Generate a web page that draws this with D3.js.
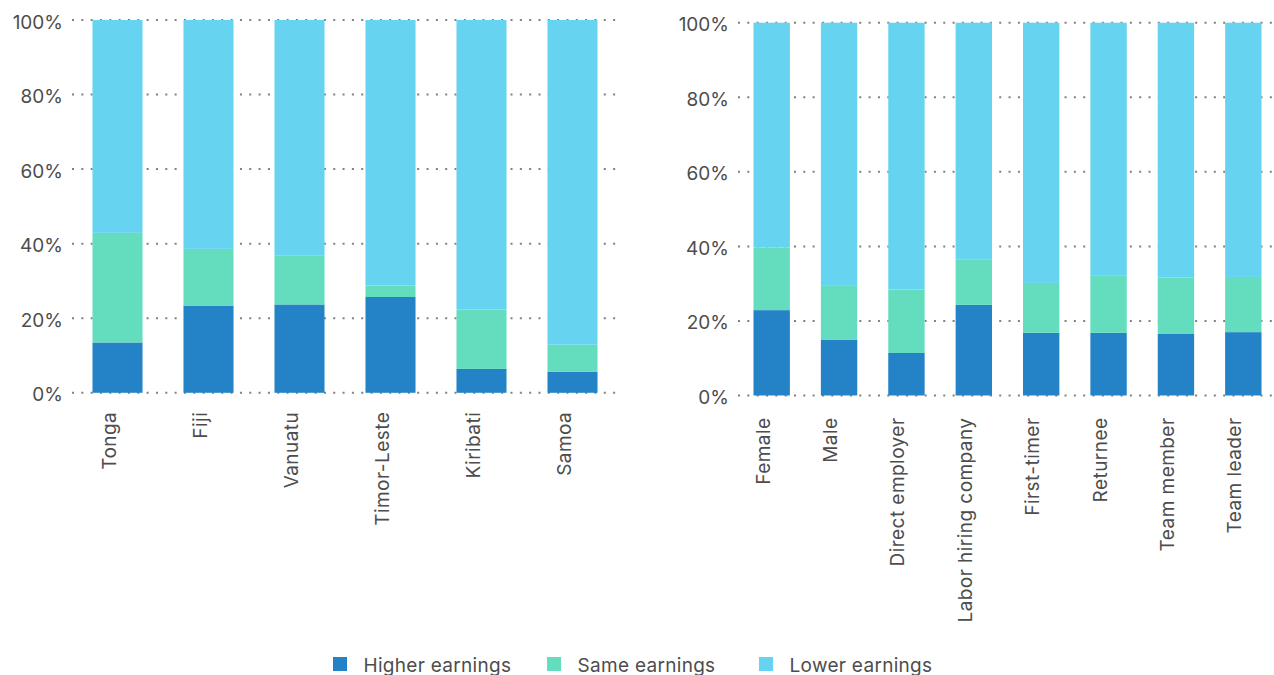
<!DOCTYPE html>
<html>
<head>
<meta charset="utf-8">
<script src="https://cdn.jsdelivr.net/npm/d3@7"></script>
<style>
  html, body { margin: 0; padding: 0; background: #fff; }
  svg { display: block; }
  text { font-family: Inter, "Noto Sans", sans-serif; fill: #4d4d4d; }
</style>
</head>
<body>
<svg id="chart" width="1274" height="675"></svg>
<script>
const seriesKeys = ["higher", "same", "lower"];
const seriesNames = ["Higher earnings", "Same earnings", "Lower earnings"];
const seriesColors = ["#2383c6", "#64ddbe", "#66d4f0"];
const yTicks = [0, 20, 40, 60, 80, 100];

const countries = ["Tonga", "Fiji", "Vanuatu", "Timor-Leste", "Kiribati", "Samoa"];
const countryHigher = [13.5, 23.4, 23.7, 25.7, 6.4, 5.6];
const countrySame = [29.4, 15.2, 13.2, 3.1, 15.9, 7.3];
const countryLower = [57.1, 61.4, 63.1, 71.2, 77.7, 87.1];

const groups = ["Female", "Male", "Direct employer", "Labor hiring company", "First-timer", "Returnee", "Team member", "Team leader"];
const groupHigher = [22.9, 14.9, 11.4, 24.3, 16.8, 16.8, 16.5, 17.0];
const groupSame = [16.8, 14.5, 17.0, 12.1, 13.4, 15.3, 15.1, 14.8];
const groupLower = [60.3, 70.6, 71.6, 63.6, 69.8, 67.9, 68.4, 68.2];

const svg = d3.select("#chart");

function drawPanel(cats, hi, sa, lo, opt) {
  const rows = cats.map((c, i) => ({ cat: c, higher: hi[i], same: sa[i], lower: lo[i] }));
  const stacked = d3.stack().keys(seriesKeys)(rows);
  const x = d3.scaleBand().domain(cats).range([opt.x0, opt.x1]).paddingInner(opt.pad).paddingOuter(opt.pad / 2);
  const y = d3.scaleLinear().domain([0, 100]).range([opt.y0, opt.y1]);
  const g = svg.append("g");

  // gridlines
  g.append("g").selectAll("line").data(yTicks).join("line")
    .attr("x1", opt.x0).attr("x2", opt.gridEnd)
    .attr("y1", d => y(d)).attr("y2", d => y(d))
    .attr("stroke", "#808080").attr("stroke-width", 2)
    .attr("stroke-dasharray", "2 7.33");

  // tick labels
  g.append("g").selectAll("text").data(yTicks).join("text")
    .attr("x", opt.x0 - 9).attr("y", d => y(d))
    .attr("dy", "0.45em")
    .attr("text-anchor", "end")
    .style("font-size", "19px")
    .text(d => d + "%");

  // bars
  g.append("g").selectAll("g").data(stacked).join("g")
    .attr("fill", (d, i) => seriesColors[i])
    .selectAll("rect").data(d => d).join("rect")
    .attr("x", d => x(d.data.cat))
    .attr("width", x.bandwidth())
    .attr("y", d => y(d[1]))
    .attr("height", d => y(d[0]) - y(d[1]));

  // category labels
  g.append("g").selectAll("text").data(cats).join("text")
    .attr("transform", d => `translate(${x(d) + x.bandwidth() / 2 - 2},${opt.y0 + opt.labelGap}) rotate(-90)`)
    .attr("text-anchor", "end")
    .style("font-size", "19px")
    .style("letter-spacing", "0.45px")
    .text(d => d);
}

drawPanel(countries, countryHigher, countrySame, countryLower,
  { x0: 72, x1: 618, gridEnd: 618, y0: 392.8, y1: 20, pad: 0.45, labelGap: 19 });
drawPanel(groups, groupHigher, groupSame, groupLower,
  { x0: 738, x1: 1277, gridEnd: 1274, y0: 395.5, y1: 22.7, pad: 0.46, labelGap: 22 });

// legend
const legendX = [333, 547, 759];
const lg = svg.append("g").selectAll("g").data(seriesNames).join("g")
  .attr("transform", (d, i) => `translate(${legendX[i]},657)`);
lg.append("rect").attr("width", 14).attr("height", 14).attr("fill", (d, i) => seriesColors[i]);
lg.append("text").attr("x", 30.5).attr("y", 14.5)
  .style("font-size", "19px").style("letter-spacing", "0.3px").text(d => d);
</script>
</body>
</html>
